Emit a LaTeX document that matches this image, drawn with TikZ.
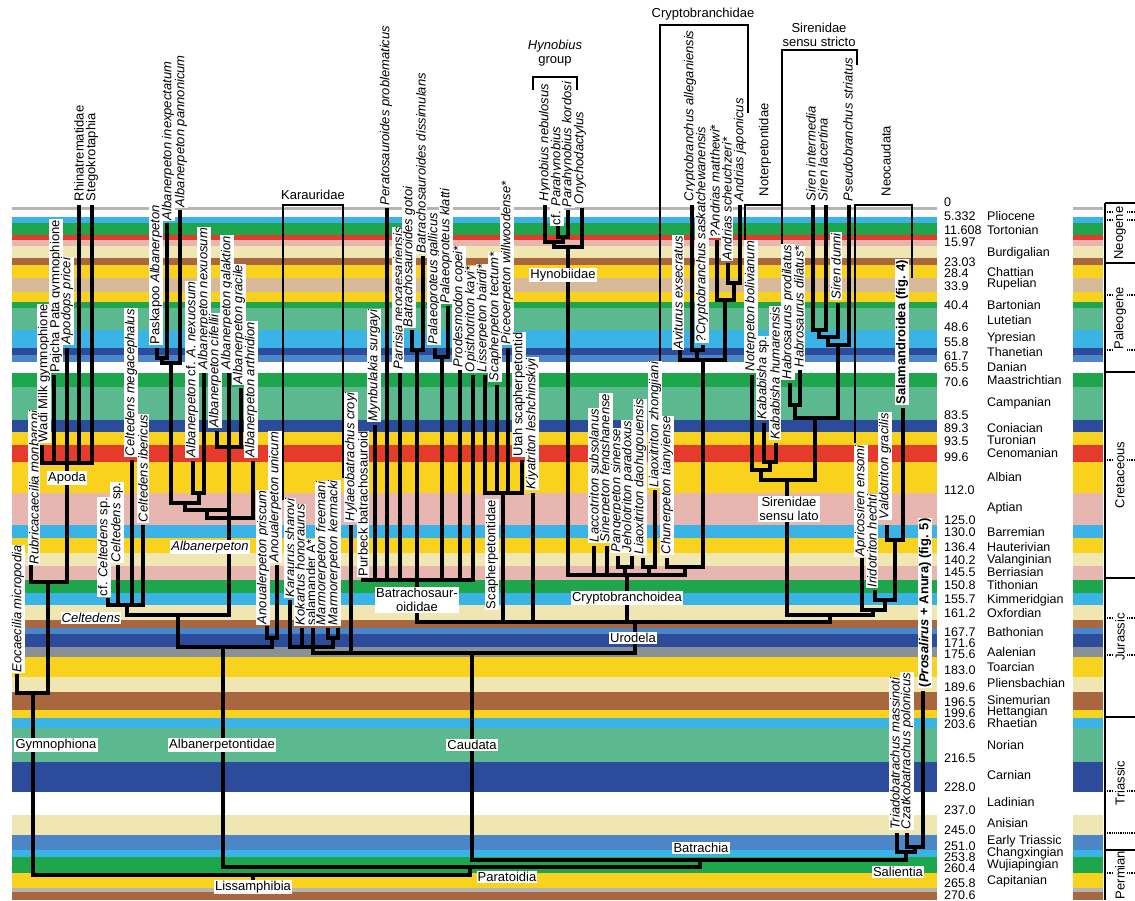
\documentclass[tikz,border=0pt]{standalone}
\usepackage{fontspec}
\setmainfont{Liberation Sans}
\newcommand{\fsz}{\fontsize{13}{14}\selectfont}
\newcommand{\asz}{\fontsize{12.5}{13}\selectfont}
\definecolor{cL}{HTML}{3AB4E6}
\definecolor{cG}{HTML}{1DA64C}
\definecolor{cR}{HTML}{E63A2C}
\definecolor{cP}{HTML}{E8B6B0}
\definecolor{cYp}{HTML}{F0E6B2}
\definecolor{cB}{HTML}{A8673F}
\definecolor{cY}{HTML}{F8D21C}
\definecolor{cT}{HTML}{D8BA98}
\definecolor{cM}{HTML}{5CB98F}
\definecolor{cD}{HTML}{2D4B9B}
\definecolor{cMB}{HTML}{4A86C8}
\definecolor{cGr}{HTML}{8A9097}
\definecolor{cGl}{HTML}{B5B5B5}
\begin{document}
\begin{tikzpicture}[x=1pt,y=-1pt,
  br/.style={line width=3.2pt, line cap=rect},
  thinline/.style={line width=1.2pt},
  tx/.style={rotate=90, anchor=west, fill=white, inner sep=0.8pt, font=\fsz\itshape},
  tu/.style={rotate=90, anchor=west, fill=white, inner sep=0.8pt, font=\fsz},
  cl/.style={fill=white, inner sep=1.2pt, font=\fsz},
  per/.style={rotate=90, font=\fsz, inner sep=0pt},
  age/.style={anchor=west, inner sep=0pt, font=\asz}]
\useasboundingbox (0,0) rectangle (1135,900);
\fill[white] (0,0) rectangle (1135,900);
% ---------- time bands
\foreach \a/\b/\c in {206.5/209.5/cGl, 217/223/cL, 223/235/cG, 235/240/cR, 240/246/cP, 246/258/cYp, 258/265/cB, 265/278/cY, 278/292/cT, 292/302/cY, 302/308/cG, 308/330/cM, 330/348/cL, 348/355/cD, 355/362/cMB, 373/387/cG, 387/420/cM, 420/432/cD, 432/445/cY, 445/462/cR, 462/493/cY, 493/525/cP, 525/538/cL, 538/553/cY, 553/566/cYp, 566/580/cP, 580/593/cG, 593/605/cL, 605/620/cYp, 620/628/cB, 628/634/cMB, 634/647/cD, 647/657/cGr, 657/677/cY, 677/692/cYp, 692/710/cB, 710/718/cY, 718/728/cL, 728/762/cM, 762/792/cD, 815/835/cYp, 835/850/cMB, 850/857/cL, 857/873/cG, 873/888/cY, 888/892/cGl, 892/900/cB}
{ \fill[\c] (12,\a) rectangle (937,\b); \fill[\c] (1073,\a) rectangle (1103,\b); }
% ---------- period column
\draw[thinline] (1105,203) -- (1105,900);
\foreach \y in {203,263,372,578,717,850} \draw[thinline] (1105,\y) -- (1135,\y);
\draw[thinline, densely dotted] (1105,833) -- (1135,833);
\foreach \y in {212,220,295,350,460,618,655,791,873}
{ \draw[thinline, densely dotted] (1105,\y) -- (1113,\y); \draw[thinline, densely dotted] (1127,\y) -- (1135,\y); }
\node[per] (pNeo) at (1120,233) {Neogene};
\node[per] (pPal) at (1120,318) {Paleogene};
\node[per] (pCre) at (1120,475) {Cretaceous};
\node[per] (pJur) at (1120,637) {Jurassic};
\node[per] (pTri) at (1120,783) {Triassic};
\node[per] (pPer) at (1120,875) {Permian};
% ---------- ages
\foreach \v/\y in {0/202, 5.332/216, 11.608/230, 15.97/242, 23.03/262, 28.4/273, 33.9/286, 40.4/305, 48.6/327, 55.8/342, 61.7/356, 65.5/367, 70.6/382, 83.5/415, 89.3/428, 93.5/441, 99.6/457, 112.0/490, 125.0/520, 130.0/532, 136.4/547, 140.2/560, 145.5/572, 150.8/585, 155.7/599, 161.2/613, 167.7/632, 171.6/643, 175.6/654, 183.0/670, 189.6/687, 196.5/702, 199.6/713, 203.6/724, 216.5/758, 228.0/787, 237.0/810, 245.0/830, 251.0/846, 253.8/857, 260.4/868, 265.8/883, 270.6/895}
\node[age] at (944,\y) {\v};
\foreach \s/\y in {Pliocene/216, Tortonian/230, Burdigalian/253, Chattian/272, Rupelian/284, Bartonian/305, Lutetian/320, Ypresian/338, Thanetian/352, Danian/367, Maastrichtian/380, Campanian/403, Coniacian/428, Turonian/440, Cenomanian/453, Albian/477, Aptian/508, Barremian/532, Hauterivian/547, Valanginian/560, Berriasian/572, Tithonian/585, Kimmeridgian/600, Oxfordian/613, Bathonian/632, Aalenian/652, Toarcian/667, Pliensbachian/683, Sinemurian/700, Hettangian/712, Rhaetian/723, Norian/745, Carnian/775, Ladinian/802, Anisian/823, Early Triassic/841, Changxingian/853, Wujiapingian/865, Capitanian/881}
\node[age] at (987,\y) {\s};
% ---------- tree: Gymnophiona
\draw[br] (17,676) -- (17,693) -- (48,693);
\draw[br] (33,693) -- (33,875);
\draw[br] (48,693) -- (48,582);
\draw[br] (31,567) -- (31,582) -- (67,582);
\draw[br] (67,350) -- (67,582);
\draw[br] (42,463) -- (92,463);
\draw[br] (42,447) -- (42,463);
\draw[br] (54,377) -- (54,463);
\draw[br] (79,207) -- (79,463);
\draw[br] (92,207) -- (92,463);
% Celtedens
\draw[br] (108,600) -- (108,605) -- (143,605) -- (143,527);
\draw[br] (118,567) -- (118,605);
\draw[br] (132,462) -- (132,605);
\draw[br] (127,605) -- (127,615) -- (229,615);
% Albanerpeton
\draw[br] (157,350) -- (157,358) -- (167,358) -- (167,225);
\draw[br] (162,358) -- (162,363) -- (180,363) -- (180,212);
\draw[br] (171,363) -- (171,503) -- (199,503) -- (199,493);
\draw[br] (193,463) -- (193,493) -- (204,493) -- (204,375);
\draw[br] (185,503) -- (185,510) -- (229,510);
\draw[br] (217,433) -- (217,447) -- (241,447) -- (241,390);
\draw[br] (229,375) -- (229,615);
\draw[br] (207,510) -- (207,518) -- (253,518) -- (253,463);
\draw[br] (178,615) -- (178,647) -- (272,647) -- (272,638);
\draw[br] (267,628) -- (267,638) -- (277,638) -- (277,567);
\draw[br] (223,647) -- (223,867);
% Karauridae and others
\draw[br] (290,602) -- (290,647) -- (333,647) -- (333,638);
\draw[br] (302,630) -- (302,647);
\draw[br] (328,630) -- (328,638) -- (338,638) -- (338,630);
\draw[br] (313,630) -- (313,653) -- (635,653);
\draw[br] (351,527) -- (351,653);
% Batrachosauroididae
\draw[br] (363,580) -- (473,580) -- (473,377);
\draw[br] (375,427) -- (375,580);
\draw[br] (387,210) -- (387,580);
\draw[br] (400,375) -- (400,580);
\draw[br] (412,332) -- (412,350) -- (423,350) -- (423,258);
\draw[br] (417,350) -- (417,622);
\draw[br] (435,350) -- (435,357) -- (448,357) -- (448,308);
\draw[br] (442,357) -- (442,580);
\draw[br] (460,372) -- (460,580);
% Scapherpetontidae
\draw[br] (485,377) -- (485,493) -- (522,493) -- (522,462);
\draw[br] (497,387) -- (497,493);
\draw[br] (508,350) -- (508,493);
\draw[br] (503,493) -- (503,622);
\draw[br] (533,495) -- (533,622);
\draw[br] (417,622) -- (830,622);
% Hynobiidae
\draw[br] (558,228) -- (558,237) -- (568,237) -- (568,212);
\draw[br] (563,237) -- (563,242);
\draw[br] (545,207) -- (545,242) -- (563,242);
\draw[br] (554,242) -- (554,247) -- (582,247) -- (582,210);
\draw[br] (568,247) -- (568,575) -- (685,575);
% Cryptobranchoidea
\draw[br] (594,548) -- (594,575);
\draw[br] (607,548) -- (607,575);
\draw[br] (618,558) -- (618,567) -- (632,567) -- (632,558);
\draw[br] (625,567) -- (625,575);
\draw[br] (643,560) -- (643,567) -- (655,567) -- (655,492);
\draw[br] (649,567) -- (649,575);
\draw[br] (667,560) -- (667,567) -- (703,567);
\draw[br] (685,567) -- (685,575);
\draw[br] (627,575) -- (627,622);
% Cryptobranchidae
\draw[br] (680,352) -- (680,360) -- (725,360);
\draw[br] (692,207) -- (692,350) -- (703,350) -- (703,347);
\draw[br] (697,350) -- (697,360);
\draw[br] (717,242) -- (717,300) -- (734,300);
\draw[br] (728,265) -- (728,283) -- (740,283) -- (740,207);
\draw[br] (734,283) -- (734,300);
\draw[br] (725,300) -- (725,360);
\draw[br] (703,360) -- (703,567);
% Noterpetontidae + Sirenidae
\draw[br] (752,377) -- (752,470) -- (770,470);
\draw[br] (764,425) -- (764,462) -- (776,462) -- (776,445);
\draw[br] (770,462) -- (770,470);
\draw[br] (761,470) -- (761,480) -- (815,480);
\draw[br] (790,385) -- (790,405) -- (800,405) -- (800,372);
\draw[br] (795,405) -- (795,418) -- (838,418);
\draw[br] (813,207) -- (813,330) -- (826,330) -- (826,207);
\draw[br] (819,330) -- (819,337) -- (838,337) -- (838,305);
\draw[br] (828,337) -- (828,345) -- (849,345) -- (849,207);
\draw[br] (838,345) -- (838,418);
\draw[br] (815,418) -- (815,480);
\draw[br] (787,480) -- (787,615) -- (873,615);
% Neocaudata
\draw[br] (887,527) -- (887,540) -- (903,540) -- (903,410);
\draw[br] (895,540) -- (895,600);
\draw[br] (875,592) -- (875,600) -- (895,600);
\draw[br] (885,600) -- (885,610);
\draw[br] (862,560) -- (862,610) -- (885,610);
\draw[br] (873,610) -- (873,615);
\draw[br] (830,615) -- (830,622);
\draw[br] (635,622) -- (635,653);
\draw[br] (472,653) -- (472,860) -- (906,860);
% Salientia and base
\draw[br] (897,835) -- (897,852) -- (915,852);
\draw[br] (907,835) -- (907,847) -- (923,847) -- (923,693);
\draw[br] (915,847) -- (915,852);
\draw[br] (906,852) -- (906,860);
\draw[br] (700,860) -- (700,867);
\draw[br] (223,867) -- (700,867);
\draw[br] (470,867) -- (470,875);
\draw[br] (33,875) -- (470,875);
\draw[br] (253,875) -- (253,882);
% ---------- brackets
\draw[thinline] (283,500) -- (283,205) -- (343,205) -- (343,478);
\draw[thinline] (533,90) -- (533,77) -- (577,77) -- (577,90);
\draw[thinline] (660,400) -- (660,25) -- (748,25) -- (748,113);
\draw[thinline] (745,240) -- (745,205) -- (782,205);
\draw[thinline] (782,245) -- (782,50) -- (857,50) -- (857,65);
\draw[thinline] (855,443) -- (855,205) -- (912,205) -- (912,278);
\node[font=\fsz, inner sep=1pt] (kar) at (313,195) {Karauridae};
\node[font=\fsz, inner sep=1pt] (cry) at (703,14) {Cryptobranchidae};
\node[font=\fsz, inner sep=1pt, align=center] (hyg) at (555,53) {\textit{Hynobius}\\group};
\node[font=\fsz, inner sep=1pt, align=center] (sss) at (819,35) {Sirenidae\\sensu stricto};
% ---------- taxon labels
\node[tx] (t01) at (18,673) {Eocaecilia micropodia};
\node[tx] (t02) at (34,565) {Rubricacaecilia monbaroni};
\node[tu] (t03) at (44,443) {Wadi Milk gymnophione};
\node[tu] (t04) at (56,373) {Pajcha Pata gymnophione};
\node[tx] (t05) at (67,345) {Apodops pricei};
\node[tu] (t06) at (79,202) {Rhinatrematidae};
\node[tu] (t07) at (92,202) {Stegokrotaphia};
\node[tu] (t08) at (104,597) {cf. \textit{Celtedens} sp.};
\node[tu] (t09) at (117,563) {\textit{Celtedens} sp.};
\node[tx] (t10) at (131,457) {Celtedens megacephalus};
\node[tx] (t11) at (143,523) {Celtedens ibericus};
\node[tu] (t12) at (156,345) {Paskapoo \textit{Albanerpeton}};
\node[tx] (t13) at (168,221) {Albanerpeton inexpectatum};
\node[tx] (t14) at (181,208) {Albanerpeton pannonicum};
\node[tx] (t15) at (192,458) {Albanerpeton \textup{cf.} A.~nexuosum};
\node[tx] (t16) at (204,370) {Albanerpeton nexuosum};
\node[tx] (t17) at (215,428) {Albanerpeton cifellii};
\node[tx] (t18) at (227,370) {Albanerpeton galaktion};
\node[tx] (t19) at (239,385) {Albanerpeton gracile};
\node[tx] (t20) at (251,458) {Albanerpeton arthridion};
\node[tx] (t21) at (263,625) {Anoualerpeton priscum};
\node[tx] (t22) at (275,563) {Anoualerpeton unicum};
\node[tx] (t23) at (290,598) {Karaurus sharovi};
\node[tx] (t24) at (300,626) {Kokartus honoraurus};
\node[tu] (t25) at (311,626) {salamander A*};
\node[tx] (t26) at (322,626) {Marmorerpeton freemani};
\node[tx] (t27) at (334,626) {Marmorerpeton kermacki};
\node[tx] (t28) at (351,522) {Hylaeobatrachus croyi};
\node[tu] (t29) at (363,577) {Purbeck batrachosauroid};
\node[tx] (t30) at (374,422) {Mynbulakia surgayi};
\node[tx] (t31) at (386,206) {Peratosauroides problematicus};
\node[tx] (t32) at (398,370) {Parrisia neocaesariensis};
\node[tx] (t33) at (409,328) {Batrachosauroides gotoi};
\node[tx] (t34) at (421,254) {Batrachosauroides dissimulans};
\node[tx] (t35) at (434,345) {Palaeoproteus gallicus};
\node[tx] (t36) at (446,304) {Palaeoproteus klatti};
\node[tx] (t37) at (459,368) {Prodesmodon copei*};
\node[tx] (t38) at (471,373) {Opisthotriton kayi*};
\node[tx] (t39) at (483,373) {Lisserpeton bairdi*};
\node[tx] (t40) at (495,382) {Scapherpeton tectum*};
\node[tx] (t41) at (507,345) {Piceoerpeton willwoodense*};
\node[tu] (t42) at (519,457) {Utah scapherpetontid};
\node[tx] (t43) at (532,490) {Kiyatriton leshchinskiyi};
\node[tx] (t44) at (545,202) {Hynobius nebulosus};
\node[tu] (t45) at (557,226) {cf. \textit{Parahynobius}};
\node[tx] (t46) at (568,208) {Parahynobius kordosi};
\node[tx] (t47) at (580,205) {Onychodactylus};
\node[tx] (t48) at (594,543) {Laccotriton subsolanus};
\node[tx] (t49) at (606,543) {Sinerpeton fengshanense};
\node[tx] (t50) at (617,553) {Pangerpeton sinense};
\node[tx] (t51) at (628,553) {Jeholotriton paradoxus};
\node[tx] (t52) at (640,555) {Liaoxitriton daohugouensis};
\node[tx] (t53) at (655,488) {Liaoxitriton zhongjiani};
\node[tx] (t54) at (667,555) {Chunerpeton tianyiense};
\node[tx] (t55) at (678,350) {Aviturus exsecratus};
\node[tx] (t56) at (690,202) {Cryptobranchus alleganiensis};
\node[tx] (t57) at (702,343) {?Cryptobranchus saskatchewanensis};
\node[tx] (t58) at (715,238) {?Andrias matthewi*};
\node[tx] (t59) at (727,261) {Andrias scheuchzeri*};
\node[tx] (t60) at (740,202) {Andrias japonicus};
\node[tu] (t61) at (765,197) {Noterpetontidae};
\node[tx] (t62) at (751,372) {Noterpeton bolivianum};
\node[tx] (t63) at (763,420) {Kababisha \textup{sp.}};
\node[tx] (t64) at (775,440) {Kababisha humarensis};
\node[tx] (t65) at (788,380) {Habrosaurus prodilatus};
\node[tx] (t66) at (799,368) {Habrosaurus dilatus*};
\node[tx] (t67) at (811,202) {Siren intermedia};
\node[tx] (t68) at (823,202) {Siren lacertina};
\node[tx] (t69) at (836,300) {Siren dunni};
\node[tx] (t70) at (848,202) {Pseudobranchus striatus};
\node[tu] (t71) at (886,197) {Neocaudata};
\node[tx] (t72) at (861,557) {Apricosiren ensomi};
\node[tx] (t73) at (872,588) {Iridotriton hechti};
\node[tx] (t74) at (885,520) {Valdotriton gracilis};
\node[tu, font=\fsz\bfseries] (t75) at (902,405) {Salamandroidea (fig. 4)};
\node[tu, font=\fsz\bfseries] (t76) at (925,688) {(\textit{Prosalirus} + Anura) (fig. 5)};
\node[tx] (t77) at (895,830) {Triadobatrachus massinoti};
\node[tx] (t78) at (907,830) {Czatkobatrachus polonicus};
% ---------- clade labels
\node[cl] (c01) at (67,478) {Apoda};
\node[cl, font=\fsz\itshape] (c02) at (91,618) {Celtedens};
\node[cl, font=\fsz\itshape] (c03) at (210,547) {Albanerpeton};
\node[cl] (c04) at (56,745) {Gymnophiona};
\node[cl] (c05) at (222,745) {Albanerpetontidae};
\node[cl] (c06) at (253,887) {Lissamphibia};
\node[cl, align=center] (c07) at (417,600) {Batrachosaur-\\oididae};
\node[tu] (c08) at (492,610) {Scapherpetontidae};
\node[cl] (c09) at (563,275) {Hynobiidae};
\node[cl] (c10) at (627,598) {Cryptobranchoidea};
\node[cl] (c11) at (633,638) {Urodela};
\node[cl] (c12) at (472,745) {Caudata};
\node[cl] (c13) at (701,848) {Batrachia};
\node[cl] (c14) at (507,877) {Paratoidia};
\node[cl] (c15) at (898,872) {Salientia};
\node[cl, align=center] (c16) at (789,509) {Sirenidae\\sensu lato};
\end{tikzpicture}
\end{document}
